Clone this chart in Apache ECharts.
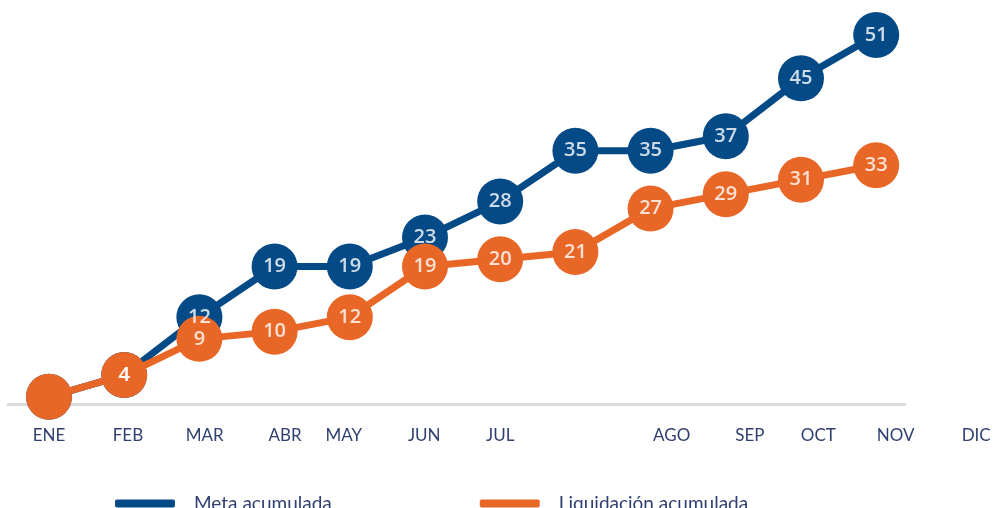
<!DOCTYPE html>
<html>
<head>
<meta charset="utf-8">
<script src="https://cdn.jsdelivr.net/npm/echarts@6/dist/echarts.min.js"></script>
<style>
  html, body { margin: 0; padding: 0; background: #ffffff; }
  #chart { width: 995px; height: 508px; }
</style>
</head>
<body>
<div id="chart"></div>
<script>
// Monthly points (one per month in which there is a value)
const pointMonths = ['ENE', 'FEB', 'MAR', 'ABR', 'MAY', 'JUN', 'JUL', 'AGO', 'SEP', 'OCT', 'NOV', 'DIC'];
const metaAcumulada = [1, 4, 12, 19, 19, 23, 28, 35, 35, 37, 45, 51];
const liquidacionAcumulada = [1, 4, 9, 10, 12, 19, 20, 21, 27, 29, 31, 33];

// Month names along the bottom axis
const monthLabels = ['ENE', 'FEB', 'MAR', 'ABR', 'MAY', 'JUN', 'JUL', 'AGO', 'SEP', 'OCT', 'NOV', 'DIC'];
// where each month name sits, in point-index units
const monthLabelAt = [0, 1.05, 2.07, 3.14, 3.92, 4.99, 6.0, 8.28, 9.32, 10.23, 11.26, 12.33];

const seriesNames = ['Meta acumulada', 'Liquidación acumulada'];

const BLUE = '#044a86';
const ORANGE = '#e86726';
const TEXT = '#2f3f70';

function toPoints(values) {
  return values.map((v, i) => [i, v]);
}

const chart = echarts.init(document.getElementById('chart'), null, { renderer: 'canvas' });

const pointLabel = {
  show: true,
  position: 'inside',
  color: '#ffffff',
  fontFamily: 'Open Sans',
  fontWeight: 600,
  fontSize: 20,
  // the first (starting) point carries no label
  formatter: p => (p.dataIndex > 0 ? String(p.value[1]) : '')
};

// a line series with its circles, and a label-only twin drawn above everything
function lineWithMarkers(name, values, color, z) {
  return [
    {
      name: name,
      type: 'line',
      xAxisIndex: 0, yAxisIndex: 0,
      clip: false,
      data: toPoints(values),
      symbol: 'circle',
      symbolSize: 46,
      color: color,
      lineStyle: { color: color, width: 7 },
      itemStyle: { color: color },
      label: { show: false },
      z: z
    },
    {
      name: name + ' (valores)',
      type: 'scatter',
      xAxisIndex: 0, yAxisIndex: 0,
      clip: false,
      data: toPoints(values),
      symbol: 'circle',
      symbolSize: 46,
      itemStyle: { color: 'rgba(0,0,0,0)' },
      label: pointLabel,
      silent: true,
      z: 10
    }
  ];
}

chart.setOption({
  animation: false,
  backgroundColor: '#ffffff',
  grid: [
    { left: 8, right: 90, top: 6, bottom: 104 },
    { left: 8, right: 0, top: 6, bottom: 104 }
  ],
  xAxis: [
    {
      type: 'value', gridIndex: 0, min: -0.545, max: 11.383,
      axisLine: { show: true, onZero: false, lineStyle: { color: '#dcdcdc', width: 3 } },
      axisTick: { show: false }, axisLabel: { show: false }, splitLine: { show: false }
    },
    {
      type: 'value', gridIndex: 1, min: -0.545, max: 12.58,
      axisLine: { show: false }, axisTick: { show: false }, splitLine: { show: false },
      axisLabel: {
        show: true,
        customValues: monthLabelAt,
        formatter: v => {
          const k = monthLabelAt.findIndex(m => Math.abs(m - v) < 1e-6);
          return k >= 0 ? monthLabels[k] : '';
        },
        margin: 23,
        color: TEXT,
        fontFamily: 'Lato',
        fontSize: 17
      }
    }
  ],
  yAxis: [
    { type: 'value', gridIndex: 0, min: 0, max: 55, show: false },
    { type: 'value', gridIndex: 1, min: 0, max: 55, show: false }
  ],
  legend: {
    left: 110,
    top: 489,
    itemWidth: 60,
    itemHeight: 8,
    itemGap: 148,
    icon: 'roundRect',
    textStyle: { color: TEXT, fontFamily: 'Lato', fontSize: 19, padding: [0, 0, 0, 14] },
    data: seriesNames
  },
  series: [
    ...lineWithMarkers(seriesNames[0], metaAcumulada, BLUE, 2),
    ...lineWithMarkers(seriesNames[1], liquidacionAcumulada, ORANGE, 3)
  ]
});
</script>
</body>
</html>
